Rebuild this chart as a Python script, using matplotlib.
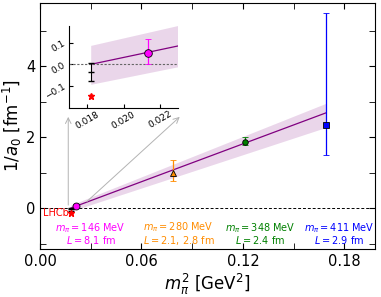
import numpy as np
import matplotlib
matplotlib.use('Agg')
import matplotlib.pyplot as plt

# lattice ensembles: m_pi^2 [GeV^2], 1/a0 [fm^-1], asymmetric errors
m2 = [0.02132, 0.0784, 0.1211, 0.1689]
inv_a0 = [0.05, 0.98, 1.87, 2.34]
err_lo = [0.05, 0.22, 0.10, 0.85]
err_hi = [0.067, 0.37, 0.12, 3.17]
colors = ['magenta', 'darkorange', 'green', 'blue']
markers = ['o', '^', 'o', 's']
msizes = [5, 5, 4, 5]
labels = [r'$m_\pi = 146$ MeV' + '\n' + r'$L = 8.1$ fm',
          r'$m_\pi = 280$ MeV' + '\n' + r'$L = 2.1,\,2.8$ fm',
          r'$m_\pi = 348$ MeV' + '\n' + r'$L = 2.4$ fm',
          r'$m_\pi = 411$ MeV' + '\n' + r'$L = 2.9$ fm']
label_x = [0.030, 0.082, 0.130, 0.177]

# physical point extrapolation and LHCb
phys_x, phys_y, phys_err = 0.01822, -0.035, 0.042
lhcb_x, lhcb_y, lhcb_err = 0.01822, -0.148, 0.008

# chiral fit line and band
fit_x = [0.01822, 0.023, 0.1689]
fit_y = [0.0, 0.085, 2.68]
band_lo = [-0.095, -0.014, 2.27]
band_hi = [0.085, 0.177, 2.95]

plt.rcParams.update({'font.family': 'DejaVu Sans', 'mathtext.fontset': 'dejavusans'})
fig = plt.figure(figsize=(3.81, 2.97), dpi=100)
ax = fig.add_axes([0.105, 0.162, 0.879, 0.828])


def draw(a, ms_scale=1.0):
    a.fill_between(fit_x, band_lo, band_hi, color='purple', alpha=0.16, lw=0)
    a.plot(fit_x, fit_y, color='purple', lw=0.9)
    for x, y, lo, hi, c, m, s in zip(m2, inv_a0, err_lo, err_hi, colors, markers, msizes):
        a.errorbar(x, y, yerr=[[lo], [hi]], fmt=m, color=c, mfc=c, mec='k',
                   mew=0.6, ms=s * ms_scale, capsize=2, elinewidth=0.9, zorder=5)
    a.errorbar(phys_x, phys_y, yerr=phys_err, fmt='_', color='k', ms=4,
               capsize=2, elinewidth=0.8, zorder=5)
    a.errorbar(lhcb_x, lhcb_y, yerr=lhcb_err, fmt='*', color='red', ms=5,
               capsize=1.5, elinewidth=0.8, zorder=5)


draw(ax)
ax.axhline(0, color='k', ls='--', lw=0.7, dashes=(3, 2))
ax.set_xlim(0, 0.198)
ax.set_ylim(-1.15, 5.78)
ax.set_xticks([0.0, 0.06, 0.12, 0.18])
ax.set_xticks([0.03, 0.09, 0.15], minor=True)
ax.set_xticklabels(['0.00', '0.06', '0.12', '0.18'])
ax.set_yticks([0, 2, 4])
ax.set_yticks([-1, 1, 3, 5], minor=True)
ax.tick_params(which='both', direction='in', top=True, right=True, labelsize=10.5)
ax.tick_params(which='major', length=4)
ax.tick_params(which='minor', length=4)
ax.set_xlabel(r'$m_\pi^2$ [GeV$^2$]', fontsize=12, labelpad=2)
ax.set_ylabel(r'$1/a_0$ [fm$^{-1}$]', fontsize=12, labelpad=1)

for lx, lab, c in zip(label_x, labels, colors):
    ax.text(lx, -0.72, lab, color=c, fontsize=7, ha='center', va='center',
            linespacing=0.92)
ax.text(0.0168, -0.14, 'LHCb', color='red', fontsize=7, ha='right', va='center')

# arrows pointing to the inset
arr = dict(arrowstyle='->', color='0.7', lw=0.7, shrinkA=0, shrinkB=0)
ax.annotate('', xy=(0.0167, 2.57), xytext=(0.0167, 0.085), arrowprops=arr)
ax.annotate('', xy=(0.0826, 2.57), xytext=(0.0276, 0.18), arrowprops=arr)

ins = fig.add_axes([0.181, 0.638, 0.287, 0.273])
draw(ins, ms_scale=1.1)
ins.axhline(0, color='0.4', ls='--', lw=0.8, dashes=(2, 1.5))
ins.set_xlim(0.017, 0.023)
ins.set_ylim(-0.2, 0.175)
ins.set_xticks([0.018, 0.020, 0.022])
ins.set_xticklabels(['0.018', '0.020', '0.022'])
ins.set_yticks([-0.1, 0.0, 0.1])
ins.set_yticklabels(['\u22120.1', '0.0', '0.1'])
ins.spines['top'].set_visible(False)
ins.spines['right'].set_visible(False)
ins.patch.set_alpha(0)
ins.tick_params(direction='in', length=3, labelsize=6.5, pad=1.5)
for t in ins.get_xticklabels():
    t.set_rotation(30)
    t.set_ha('center')
for t in ins.get_yticklabels():
    t.set_rotation(30)

fig.savefig('out.png', dpi=100)
